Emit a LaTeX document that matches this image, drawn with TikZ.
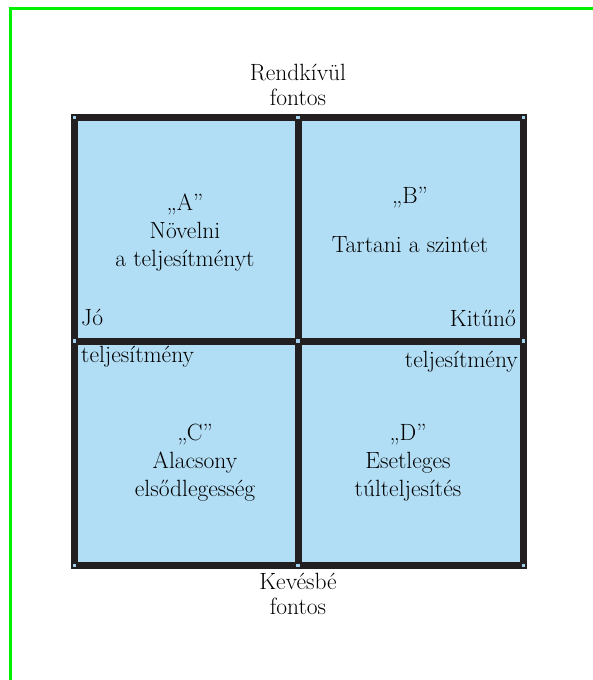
\documentclass[tikz,border=0pt]{standalone}
\definecolor{quadblue}{RGB}{178,222,245}
\definecolor{framegreen}{RGB}{0,240,0}
\definecolor{frameblack}{RGB}{35,31,32}
\definecolor{handleblue}{RGB}{160,210,240}

\begin{document}
\begin{tikzpicture}[x=1pt,y=-1pt,
	quad/.style={draw=frameblack, fill=quadblue, line width=7pt, inner sep=0pt},
	txt/.style={inner sep=0pt, align=center, font=\fontsize{23.5}{28}\selectfont},
	axis/.style={inner sep=0pt, align=center, font=\fontsize{23.5}{25}\selectfont}]
		\useasboundingbox (0,0) rectangle (593,680);

		% green frame
		\draw[framegreen, line width=3pt] (10,680) -- (10,8) -- (593,8);

		% quadrants
		\draw (186.25,229.25) node[quad, minimum width=223.5pt, minimum height=223.5pt] (qA) {};
		\draw (410.75,229.25) node[quad, minimum width=225.5pt, minimum height=223.5pt] (qB) {};
		\draw (186.25,453.25) node[quad, minimum width=223.5pt, minimum height=224.5pt] (qC) {};
		\draw (410.75,453.25) node[quad, minimum width=225.5pt, minimum height=224.5pt] (qD) {};

		% handles
		\foreach \hx in {74.5,298,523.5}
			\foreach \hy in {117.5,341,565.5}
				\fill[handleblue] (\hx-1.7,\hy-1.7) rectangle (\hx+1.7,\hy+1.7);

		\draw (298,85) node[axis] (top) {Rendkívül\\fontos};
		\draw (298,594) node[axis] (bottom) {Kevésbé\\fontos};

		\draw (185,233) node[txt] (textA) {„A”\\Növelni\\a teljesítményt};
		\draw (410,198) node[txt] (markB) {„B”};
		\draw (410,245) node[txt] (textB) {Tartani a szintet};
		\draw (195,463) node[txt] (textC) {„C”\\Alacsony\\elsődlegesség};
		\draw (408,463) node[txt] (textD) {„D”\\Esetleges\\túlteljesítés};

		\draw (81,318) node[txt, anchor=west] (good) {Jó};
		\draw (516,318) node[txt, anchor=east] (great) {Kitűnő};
		\draw (81,357) node[txt, anchor=west] (perfL) {teljesítmény};
		\draw (518,362) node[txt, anchor=east] (perfR) {teljesítmény};
	\end{tikzpicture}
\end{document}
